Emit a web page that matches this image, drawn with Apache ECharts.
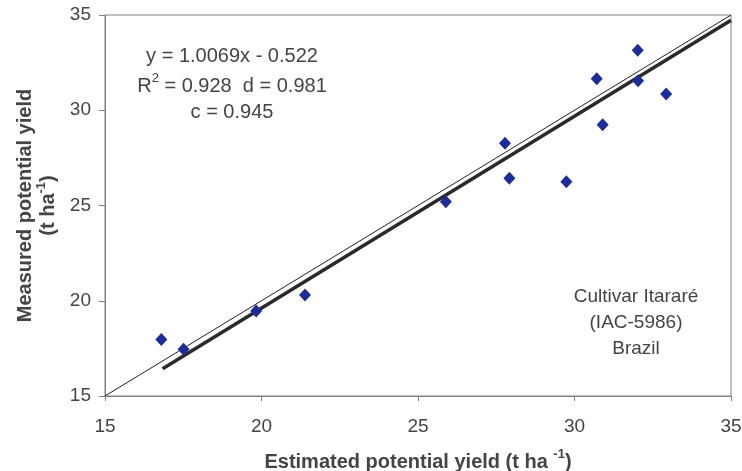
<!DOCTYPE html>
<html>
<head>
<meta charset="utf-8">
<script src="https://cdn.jsdelivr.net/npm/echarts@6/dist/echarts.min.js"></script>
<style>
  html, body { margin: 0; padding: 0; background: #fff; }
  #main { width: 742px; height: 471px; }
</style>
</head>
<body>
<div id="main"></div>
<script>
// estimated vs measured potential yield (t ha-1)
var estimated = [16.80, 17.51, 19.83, 21.39, 25.89, 27.78, 27.92, 29.74, 30.71, 30.90, 32.02, 32.03, 32.93];
var measured  = [17.97, 17.45, 19.46, 20.30, 25.20, 28.27, 26.43, 26.25, 31.66, 29.24, 33.15, 31.55, 30.85];

// regression y = 1.0069x - 0.522, drawn from x = 16.84 to 35
var slope = 1.0069;
var intercept = -0.522;
var regX = [16.84, 35];
var oneToOne = [15, 35];

var axisTicks = [15, 20, 25, 30, 35];

var font = 'Liberation Sans, Arial, sans-serif';
var txt = '#444';

var chartDom = document.getElementById('main');
var myChart = echarts.init(chartDom);

var points = estimated.map(function (x, i) { return [x, measured[i]]; });
var regLine = regX.map(function (x) { return [x, slope * x + intercept]; });
var idLine = oneToOne.map(function (v) { return [v, v]; });

var option = {
  animation: false,
  grid: {
    left: 105, right: 11, top: 15, bottom: 75,
    containLabel: false,
    outerBoundsMode: 'none',
    show: true, borderColor: '#808080', borderWidth: 1
  },
  xAxis: {
    type: 'value',
    min: axisTicks[0], max: axisTicks[axisTicks.length - 1], interval: 5,
    splitLine: { show: false },
    axisLine: { lineStyle: { color: '#808080' } },
    axisTick: { length: 5, lineStyle: { color: '#808080' } },
    axisLabel: { color: txt, fontSize: 19, fontFamily: font, margin: 21 },
    name: '{b|Estimated potential yield (t ha }{s|-1}{b|)}',
    nameLocation: 'middle',
    nameGap: 52,
    nameTextStyle: {
      rich: {
        b: { fontSize: 20, fontWeight: 'bold', color: txt, fontFamily: font, lineHeight: 24, verticalAlign: 'bottom' },
        s: { fontSize: 13, fontWeight: 'bold', color: txt, fontFamily: font, lineHeight: 24, verticalAlign: 'top' }
      }
    }
  },
  yAxis: {
    type: 'value',
    min: axisTicks[0], max: axisTicks[axisTicks.length - 1], interval: 5,
    splitLine: { show: false },
    axisLine: { lineStyle: { color: '#808080' } },
    axisTick: { length: 6, lineStyle: { color: '#808080' } },
    axisLabel: { color: txt, fontSize: 19, fontFamily: font, margin: 14 },
    name: '{b|Measured potential yield}\n{b|(t ha}{s|-1}{b|)}',
    nameLocation: 'middle',
    nameRotate: 90,
    nameGap: 47,
    nameTextStyle: {
      padding: [12, 0, 0, 0],
      rich: {
        b: { fontSize: 20, fontWeight: 'bold', color: txt, fontFamily: font, lineHeight: 23, verticalAlign: 'bottom' },
        s: { fontSize: 13, fontWeight: 'bold', color: txt, fontFamily: font, lineHeight: 23, verticalAlign: 'top' }
      }
    }
  },
  series: [
    {
      type: 'line',
      data: idLine,
      symbol: 'none',
      silent: true,
      lineStyle: { color: '#222', width: 1 },
      z: 2
    },
    {
      type: 'line',
      data: regLine,
      symbol: 'none',
      silent: true,
      lineStyle: { color: '#2a2a2a', width: 3.5 },
      z: 1
    },
    {
      type: 'scatter',
      data: points,
      symbol: 'diamond',
      symbolSize: [12, 13],
      itemStyle: { color: '#1c2c9c', opacity: 1 },
      z: 3
    }
  ],
  graphic: [
    {
      type: 'text', x: 232, y: 56,
      style: { text: 'y = 1.0069x - 0.522', fill: txt, fontSize: 20, fontFamily: font, align: 'center', verticalAlign: 'middle' }
    },
    {
      type: 'text', x: 232, y: 84,
      style: {
        text: '{t|R}{s|2}{t| = 0.928  d = 0.981}',
        align: 'center', verticalAlign: 'middle',
        rich: {
          t: { fill: txt, fontSize: 20, fontFamily: font, lineHeight: 24, verticalAlign: 'bottom' },
          s: { fill: txt, fontSize: 13, fontFamily: font, lineHeight: 24, verticalAlign: 'top' }
        }
      }
    },
    {
      type: 'text', x: 232, y: 112,
      style: { text: 'c = 0.945', fill: txt, fontSize: 20, fontFamily: font, align: 'center', verticalAlign: 'middle' }
    },
    {
      type: 'text', x: 636, y: 323,
      style: {
        text: 'Cultivar Itararé\n(IAC-5986)\nBrazil',
        fill: txt, fontSize: 19, fontFamily: font, lineHeight: 26,
        align: 'center', verticalAlign: 'middle'
      }
    }
  ]
};

myChart.setOption(option);
</script>
</body>
</html>
